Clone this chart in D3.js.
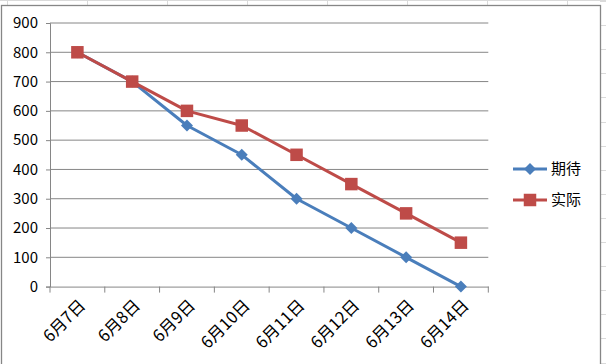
<!DOCTYPE html>
<html><head><meta charset="utf-8">
<script src="https://cdn.jsdelivr.net/npm/d3@7/dist/d3.min.js"></script>
<style>html,body{margin:0;padding:0;background:#fff;overflow:hidden}svg{display:block}</style>
</head><body>
<script>
const categories = ["6月7日","6月8日","6月9日","6月10日","6月11日","6月12日","6月13日","6月14日"];
const expected = [800,700,550,450,300,200,100,0];
const actual = [800,700,600,550,450,350,250,150];
const yTicks = [0,100,200,300,400,500,600,700,800,900];
const seriesNames = ["期待","实际"];

const W = 606, H = 364;
const svg = d3.select("body").append("svg").attr("width", W).attr("height", H);
const font = "'Noto Sans CJK SC', 'Liberation Sans', sans-serif";

// spreadsheet cell lines behind the chart
const cellG = svg.append("g").attr("stroke", "#dadada").attr("stroke-width", 1);
d3.range(7, W, 80).forEach(x => cellG.append("line").attr("x1", x + 0.5).attr("x2", x + 0.5).attr("y1", 0).attr("y2", 6));
d3.range(1, H, 24.1).forEach(y => cellG.append("line").attr("x1", 600).attr("x2", W).attr("y1", Math.round(y) + 0.5).attr("y2", Math.round(y) + 0.5));
cellG.append("line").attr("x1", 0).attr("x2", W).attr("y1", 0.5).attr("y2", 0.5);

// chart area border
svg.append("rect").attr("x", 1.5).attr("y", 5.5).attr("width", 599).attr("height", 400)
  .attr("fill", "#fff").attr("stroke", "#868686").attr("stroke-width", 1.3);

const plot = {left: 50, right: 488.3, top: 23, bottom: 286.6};
const x = d3.scaleBand().domain(categories).range([plot.left, plot.right]);
const y = d3.scaleLinear().domain([0, 900]).range([plot.bottom, plot.top]);

// gridlines
svg.append("g").selectAll("line").data(yTicks.filter(d => d > 0)).join("line")
  .attr("x1", plot.left).attr("x2", plot.right)
  .attr("y1", d => y(d)).attr("y2", d => y(d))
  .attr("stroke", "#868686").attr("stroke-width", 1);

// y axis
const yAxis = svg.append("g").attr("transform", `translate(${plot.left},0)`)
  .call(d3.axisLeft(y).tickValues(yTicks).tickSize(4).tickPadding(8));
yAxis.select(".domain").attr("stroke", "#868686");
yAxis.selectAll(".tick line").attr("stroke", "#868686");
yAxis.selectAll("text").attr("font-family", font).attr("font-size", 15).attr("fill", "#000");

// x axis
const xAxis = svg.append("g").attr("transform", `translate(0,${plot.bottom})`)
  .call(d3.axisBottom(x).tickSize(0).tickFormat(""));
xAxis.select(".domain").attr("stroke", "#868686");
const bounds = categories.map(c => x(c)).concat([plot.right]);
xAxis.selectAll(".bt").data(bounds).join("line").attr("class", "bt")
  .attr("x1", d => d).attr("x2", d => d).attr("y1", 0).attr("y2", 6).attr("stroke", "#868686");
xAxis.selectAll(".xl").data(categories).join("text").attr("class", "xl")
  .attr("transform", d => `translate(${x(d) + x.bandwidth() / 2 + 5},${16}) rotate(-45)`)
  .attr("text-anchor", "end").attr("dy", "0.35em")
  .attr("font-family", font).attr("font-size", 16.5).attr("fill", "#000")
  .text(d => d);

const cx = d => x(d) + x.bandwidth() / 2;
const line = d3.line().x(d => cx(d.c)).y(d => y(d.v));
const blue = "#4A7EBB", red = "#BE4B48";

function drawSeries(vals, color, marker) {
  const data = categories.map((c, i) => ({c, v: vals[i]}));
  svg.append("path").datum(data).attr("d", line).attr("fill", "none")
    .attr("stroke", color).attr("stroke-width", 3).attr("stroke-linejoin", "round");
  const g = svg.append("g");
  data.forEach(d => drawMarker(g, cx(d.c), y(d.v), color, marker));
}
function drawMarker(g, px, py, color, marker) {
  if (marker === "diamond") {
    const s = 6;
    g.append("path").attr("d", `M${px},${py - s}L${px + s},${py}L${px},${py + s}L${px - s},${py}Z`).attr("fill", color);
  } else {
    const s = 12.5;
    g.append("rect").attr("x", px - s / 2).attr("y", py - s / 2).attr("width", s).attr("height", s).attr("fill", color);
  }
}
drawSeries(expected, blue, "diamond");
drawSeries(actual, red, "square");

// legend
const legend = [{n: seriesNames[0], c: blue, m: "diamond", y: 169}, {n: seriesNames[1], c: red, m: "square", y: 200}];
legend.forEach(l => {
  svg.append("line").attr("x1", 513).attr("x2", 547).attr("y1", l.y).attr("y2", l.y).attr("stroke", l.c).attr("stroke-width", 3);
  drawMarker(svg, 530, l.y, l.c, l.m);
  svg.append("text").attr("x", 551).attr("y", l.y).attr("dy", "0.35em")
    .attr("font-family", font).attr("font-size", 15).attr("fill", "#000").text(l.n);
});
</script>
</body></html>
